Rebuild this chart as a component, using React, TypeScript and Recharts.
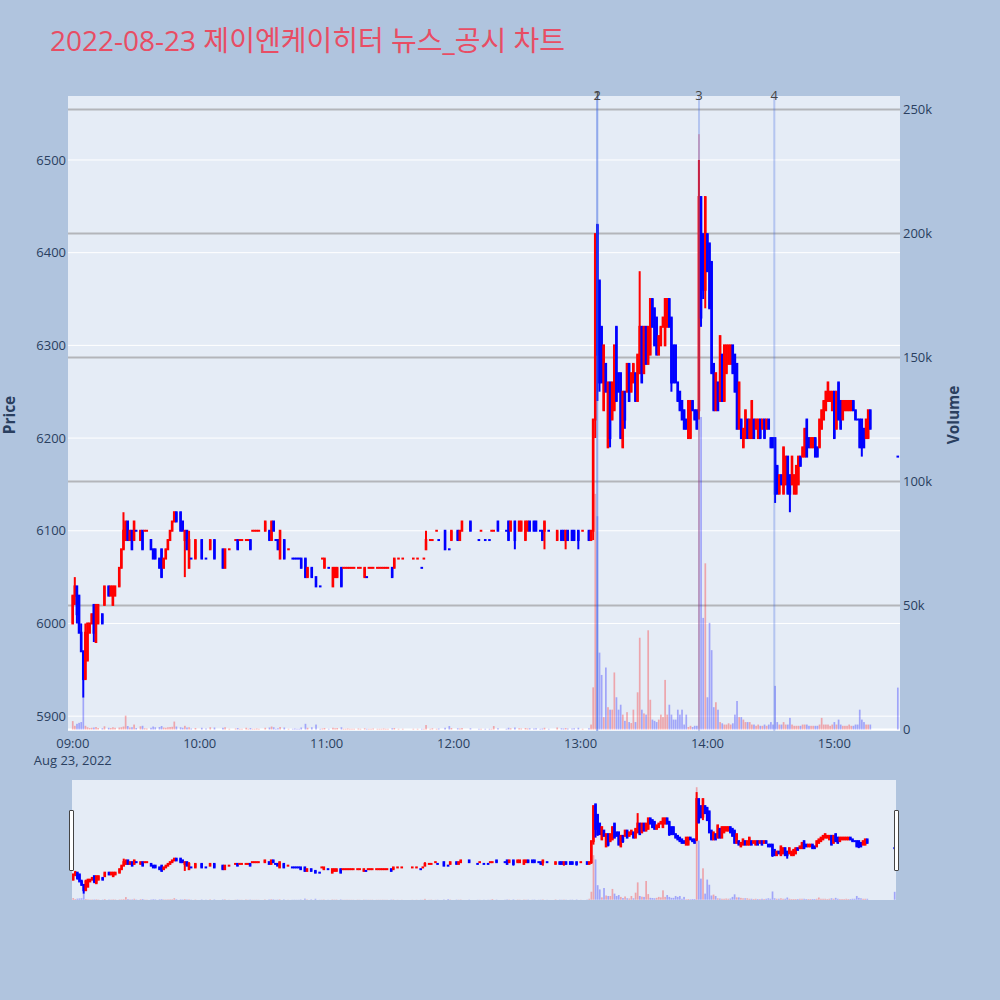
import React from "react";
import { ComposedChart, Bar, XAxis, YAxis, CartesianGrid, ReferenceLine } from "recharts";

// [time, open, high, low, close, volume]
type Row = [string, number, number, number, number, number];

const openingSession: Row[] = [
  ["09:00", 6000, 6030, 6000, 6030, 3400],
  ["09:01", 6030, 6050, 6020, 6040, 1500],
  ["09:02", 6040, 6040, 6000, 6010, 2300],
  ["09:03", 6030, 6030, 5990, 5990, 2700],
  ["09:04", 5990, 6000, 5970, 5970, 3000],
  ["09:05", 5970, 5970, 5920, 5940, 12800],
  ["09:06", 5940, 6000, 5940, 5990, 1500],
  ["09:07", 5960, 6000, 5960, 6000, 900],
  ["09:08", 5990, 6000, 5990, 6000, 600],
  ["09:09", 6000, 6010, 6000, 6010, 700],
  ["09:10", 6020, 6020, 5980, 5990, 800],
  ["09:11", 5980, 6020, 5980, 6020, 1000],
  ["09:12", 6000, 6020, 6000, 6020, 600],
  ["09:14", 6010, 6010, 6000, 6000, 500],
  ["09:15", 6020, 6040, 6020, 6040, 1300],
  ["09:17", 6040, 6040, 6030, 6030, 700],
  ["09:18", 6030, 6040, 6030, 6040, 600],
  ["09:19", 6020, 6040, 6020, 6040, 900],
  ["09:20", 6030, 6040, 6030, 6040, 700],
  ["09:22", 6040, 6060, 6040, 6060, 800],
  ["09:23", 6060, 6080, 6060, 6080, 900],
  ["09:24", 6080, 6120, 6080, 6100, 1200],
  ["09:25", 6090, 6110, 6090, 6110, 5600],
  ["09:26", 6110, 6110, 6090, 6090, 1400],
  ["09:27", 6090, 6100, 6090, 6100, 800],
  ["09:28", 6100, 6100, 6080, 6080, 900],
  ["09:29", 6090, 6110, 6090, 6110, 2000],
  ["09:30", 6100, 6100, 6100, 6100, 600],
  ["09:32", 6090, 6100, 6090, 6100, 1300],
  ["09:33", 6100, 6100, 6080, 6080, 1500],
  ["09:34", 6100, 6100, 6100, 6100, 500],
  ["09:35", 6100, 6100, 6100, 6100, 400],
  ["09:37", 6090, 6090, 6080, 6080, 700],
  ["09:38", 6080, 6080, 6070, 6070, 1200],
  ["09:39", 6080, 6080, 6070, 6070, 900],
  ["09:41", 6070, 6070, 6060, 6060, 1000],
  ["09:42", 6080, 6080, 6050, 6050, 1400],
  ["09:43", 6060, 6070, 6060, 6070, 800],
  ["09:44", 6070, 6080, 6070, 6080, 700],
  ["09:45", 6080, 6090, 6080, 6090, 900],
  ["09:46", 6090, 6100, 6090, 6100, 1000],
  ["09:47", 6100, 6110, 6100, 6110, 1100],
  ["09:48", 6110, 6120, 6110, 6120, 3200],
  ["09:49", 6120, 6120, 6110, 6110, 1200],
  ["09:51", 6120, 6120, 6100, 6100, 900],
  ["09:52", 6110, 6110, 6100, 6100, 700],
  ["09:53", 6090, 6100, 6050, 6100, 1500],
  ["09:54", 6100, 6100, 6080, 6080, 800],
  ["09:55", 6060, 6100, 6060, 6090, 900],
  ["09:56", 6070, 6070, 6070, 6070, 400],
  ["09:58", 6070, 6090, 6070, 6090, 600],
  ["10:01", 6090, 6090, 6070, 6070, 700],
  ["10:03", 6070, 6070, 6070, 6070, 400],
];

const morningSession: Row[] = [
  ["10:05", 6080, 6090, 6080, 6090, 900],
  ["10:07", 6090, 6090, 6070, 6070, 800],
  ["10:11", 6080, 6080, 6060, 6060, 700],
  ["10:12", 6060, 6080, 6060, 6080, 900],
  ["10:14", 6080, 6080, 6080, 6080, 300],
  ["10:17", 6090, 6090, 6090, 6090, 400],
  ["10:18", 6090, 6090, 6080, 6080, 600],
  ["10:19", 6090, 6090, 6090, 6090, 300],
  ["10:20", 6090, 6090, 6090, 6090, 300],
  ["10:22", 6090, 6090, 6090, 6090, 700],
  ["10:23", 6090, 6090, 6090, 6090, 300],
  ["10:24", 6090, 6090, 6080, 6080, 600],
  ["10:25", 6100, 6100, 6100, 6100, 300],
  ["10:26", 6100, 6100, 6100, 6100, 300],
  ["10:27", 6100, 6100, 6100, 6100, 400],
  ["10:28", 6100, 6100, 6100, 6100, 300],
  ["10:31", 6100, 6110, 6100, 6110, 700],
  ["10:33", 6100, 6100, 6090, 6090, 800],
  ["10:34", 6090, 6110, 6090, 6110, 1200],
  ["10:35", 6110, 6110, 6100, 6100, 900],
  ["10:36", 6090, 6090, 6090, 6090, 300],
  ["10:37", 6090, 6090, 6080, 6080, 500],
  ["10:38", 6070, 6100, 6070, 6100, 1000],
  ["10:40", 6090, 6090, 6070, 6070, 800],
  ["10:42", 6080, 6080, 6080, 6080, 300],
  ["10:44", 6070, 6070, 6070, 6070, 300],
  ["10:45", 6070, 6070, 6070, 6070, 400],
  ["10:46", 6070, 6070, 6070, 6070, 300],
  ["10:47", 6070, 6070, 6070, 6070, 300],
  ["10:48", 6070, 6070, 6060, 6060, 800],
  ["10:50", 6070, 6070, 6050, 6050, 2300],
  ["10:51", 6050, 6060, 6050, 6060, 700],
  ["10:53", 6060, 6060, 6050, 6050, 900],
  ["10:55", 6050, 6050, 6040, 6040, 2000],
  ["10:57", 6040, 6040, 6040, 6040, 300],
  ["10:58", 6070, 6070, 6070, 6070, 400],
  ["10:59", 6060, 6070, 6060, 6070, 600],
  ["11:01", 6060, 6060, 6060, 6060, 300],
  ["11:03", 6040, 6060, 6040, 6060, 700],
  ["11:04", 6050, 6060, 6050, 6060, 500],
  ["11:05", 6050, 6060, 6050, 6060, 600],
  ["11:07", 6060, 6060, 6040, 6040, 900],
  ["11:08", 6060, 6060, 6060, 6060, 300],
  ["11:09", 6060, 6060, 6060, 6060, 300],
  ["11:10", 6060, 6060, 6060, 6060, 400],
  ["11:11", 6060, 6060, 6060, 6060, 300],
  ["11:12", 6060, 6060, 6060, 6060, 300],
  ["11:13", 6060, 6060, 6060, 6060, 300],
  ["11:15", 6060, 6060, 6060, 6060, 400],
  ["11:16", 6060, 6060, 6060, 6060, 300],
  ["11:18", 6050, 6060, 6050, 6060, 500],
  ["11:19", 6050, 6050, 6050, 6050, 300],
  ["11:20", 6060, 6060, 6060, 6060, 300],
  ["11:21", 6060, 6060, 6060, 6060, 300],
  ["11:22", 6060, 6060, 6060, 6060, 400],
  ["11:24", 6060, 6060, 6060, 6060, 300],
  ["11:25", 6060, 6060, 6060, 6060, 300],
  ["11:26", 6060, 6060, 6060, 6060, 300],
  ["11:27", 6060, 6060, 6060, 6060, 400],
  ["11:28", 6060, 6060, 6060, 6060, 300],
  ["11:29", 6060, 6060, 6060, 6060, 300],
];

const middaySession: Row[] = [
  ["11:31", 6060, 6060, 6050, 6050, 500],
  ["11:32", 6060, 6070, 6060, 6070, 600],
  ["11:34", 6070, 6070, 6070, 6070, 300],
  ["11:36", 6070, 6070, 6070, 6070, 300],
  ["11:41", 6070, 6070, 6070, 6070, 300],
  ["11:43", 6070, 6070, 6070, 6070, 300],
  ["11:45", 6060, 6060, 6060, 6060, 300],
  ["11:46", 6070, 6070, 6070, 6070, 300],
  ["11:47", 6080, 6100, 6080, 6090, 1800],
  ["11:49", 6090, 6090, 6090, 6090, 300],
  ["11:50", 6090, 6090, 6090, 6090, 500],
  ["11:52", 6100, 6100, 6100, 6100, 300],
  ["11:53", 6090, 6090, 6090, 6090, 400],
  ["11:56", 6100, 6100, 6080, 6080, 700],
  ["11:58", 6080, 6080, 6080, 6080, 1400],
  ["11:59", 6090, 6100, 6090, 6100, 600],
  ["12:02", 6100, 6100, 6090, 6090, 500],
  ["12:03", 6090, 6100, 6090, 6100, 400],
  ["12:04", 6100, 6110, 6100, 6110, 600],
  ["12:08", 6110, 6110, 6100, 6100, 500],
  ["12:12", 6090, 6090, 6090, 6090, 300],
  ["12:13", 6100, 6100, 6100, 6100, 300],
  ["12:15", 6090, 6090, 6090, 6090, 300],
  ["12:17", 6090, 6090, 6090, 6090, 300],
  ["12:18", 6100, 6100, 6100, 6100, 300],
  ["12:19", 6100, 6100, 6100, 6100, 1400],
  ["12:21", 6110, 6110, 6100, 6100, 500],
  ["12:25", 6100, 6100, 6100, 6100, 300],
  ["12:26", 6110, 6110, 6090, 6090, 700],
  ["12:27", 6100, 6110, 6100, 6110, 500],
  ["12:29", 6110, 6110, 6080, 6090, 800],
  ["12:31", 6100, 6110, 6100, 6110, 500],
  ["12:32", 6100, 6110, 6100, 6110, 400],
  ["12:34", 6090, 6110, 6090, 6110, 600],
  ["12:35", 6100, 6110, 6100, 6110, 400],
  ["12:36", 6110, 6110, 6100, 6100, 500],
  ["12:38", 6110, 6110, 6100, 6100, 400],
  ["12:39", 6110, 6110, 6100, 6100, 500],
  ["12:41", 6100, 6100, 6100, 6100, 300],
  ["12:42", 6100, 6100, 6090, 6090, 400],
  ["12:43", 6100, 6110, 6080, 6110, 700],
  ["12:45", 6100, 6100, 6100, 6100, 300],
  ["12:49", 6090, 6100, 6090, 6100, 800],
  ["12:51", 6100, 6100, 6090, 6090, 500],
  ["12:52", 6100, 6100, 6090, 6090, 400],
  ["12:53", 6090, 6100, 6080, 6100, 600],
  ["12:54", 6100, 6100, 6090, 6090, 400],
  ["12:56", 6100, 6100, 6090, 6090, 400],
  ["12:57", 6100, 6100, 6090, 6090, 500],
  ["12:59", 6100, 6100, 6080, 6090, 700],
  ["13:01", 6100, 6100, 6100, 6100, 300],
  ["13:04", 6100, 6100, 6090, 6090, 500],
  ["13:05", 6090, 6100, 6090, 6100, 2000],
];

const newsSpike: Row[] = [
  ["13:06", 6100, 6220, 6090, 6220, 17000],
  ["13:07", 6220, 6420, 6200, 6420, 95000],
  ["13:08", 6430, 6430, 6240, 6290, 86000],
  ["13:09", 6370, 6370, 6250, 6260, 31000],
  ["13:10", 6320, 6320, 6260, 6260, 22000],
  ["13:11", 6230, 6300, 6230, 6300, 5000],
  ["13:12", 6280, 6280, 6250, 6250, 25000],
  ["13:13", 6190, 6260, 6190, 6260, 9000],
  ["13:14", 6260, 6260, 6190, 6200, 8000],
  ["13:15", 6220, 6260, 6220, 6260, 8000],
  ["13:16", 6230, 6300, 6230, 6300, 23000],
  ["13:17", 6320, 6320, 6240, 6240, 13000],
  ["13:18", 6270, 6270, 6250, 6250, 8000],
  ["13:19", 6270, 6270, 6200, 6200, 10000],
  ["13:20", 6190, 6250, 6190, 6250, 6000],
  ["13:21", 6250, 6250, 6210, 6220, 3500],
  ["13:22", 6250, 6280, 6250, 6280, 7000],
  ["13:23", 6280, 6280, 6240, 6240, 3000],
  ["13:24", 6250, 6270, 6250, 6270, 2600],
  ["13:25", 6260, 6280, 6260, 6280, 8000],
  ["13:26", 6270, 6270, 6240, 6240, 3000],
  ["13:27", 6240, 6290, 6240, 6290, 15000],
  ["13:28", 6270, 6380, 6270, 6320, 37000],
  ["13:29", 6320, 6320, 6260, 6260, 8000],
  ["13:30", 6270, 6320, 6270, 6320, 6500],
  ["13:31", 6320, 6320, 6280, 6280, 6000],
  ["13:32", 6280, 6320, 6280, 6320, 40000],
  ["13:33", 6290, 6350, 6290, 6350, 12000],
  ["13:34", 6350, 6350, 6320, 6320, 4000],
  ["13:35", 6340, 6340, 6300, 6300, 3500],
  ["13:36", 6330, 6330, 6290, 6290, 3000],
  ["13:37", 6290, 6310, 6290, 6310, 4000],
  ["13:38", 6300, 6320, 6300, 6320, 6000],
  ["13:39", 6320, 6330, 6320, 6330, 5000],
  ["13:40", 6300, 6350, 6300, 6350, 20000],
  ["13:41", 6320, 6350, 6320, 6350, 6000],
  ["13:42", 6350, 6350, 6320, 6320, 10000],
  ["13:43", 6330, 6330, 6250, 6260, 6000],
  ["13:44", 6300, 6300, 6260, 6260, 4000],
  ["13:45", 6300, 6300, 6260, 6260, 4000],
  ["13:46", 6260, 6260, 6240, 6240, 8000],
  ["13:47", 6250, 6250, 6230, 6230, 6000],
  ["13:48", 6240, 6240, 6220, 6220, 8000],
  ["13:49", 6230, 6230, 6210, 6210, 2000],
  ["13:50", 6220, 6220, 6210, 6210, 6000],
  ["13:51", 6200, 6240, 6200, 6240, 1000],
  ["13:52", 6200, 6240, 6200, 6240, 1500],
  ["13:53", 6240, 6240, 6230, 6230, 1000],
  ["13:54", 6230, 6230, 6220, 6220, 1500],
  ["13:55", 6230, 6230, 6210, 6210, 1500],
  ["13:56", 6230, 6500, 6220, 6460, 240000],
];

const afternoonSession: Row[] = [
  ["13:57", 6460, 6460, 6320, 6330, 126000],
  ["13:58", 6420, 6420, 6350, 6360, 45000],
  ["13:59", 6360, 6460, 6340, 6460, 67000],
  ["14:00", 6420, 6420, 6380, 6380, 13000],
  ["14:01", 6410, 6410, 6340, 6340, 43000],
  ["14:02", 6390, 6390, 6270, 6270, 32000],
  ["14:03", 6280, 6280, 6230, 6230, 9000],
  ["14:04", 6230, 6270, 6230, 6270, 11000],
  ["14:05", 6260, 6260, 6230, 6230, 8000],
  ["14:06", 6240, 6310, 6240, 6310, 3000],
  ["14:07", 6290, 6290, 6240, 6240, 2500],
  ["14:08", 6240, 6300, 6240, 6300, 2000],
  ["14:09", 6270, 6300, 6270, 6300, 2000],
  ["14:10", 6280, 6300, 6280, 6300, 2500],
  ["14:11", 6280, 6300, 6280, 6300, 2000],
  ["14:12", 6300, 6300, 6270, 6270, 2500],
  ["14:13", 6290, 6290, 6250, 6250, 6000],
  ["14:14", 6280, 6280, 6210, 6210, 11500],
  ["14:15", 6210, 6260, 6210, 6260, 5000],
  ["14:16", 6220, 6220, 6200, 6200, 5000],
  ["14:17", 6190, 6210, 6190, 6210, 4000],
  ["14:18", 6200, 6230, 6200, 6230, 3000],
  ["14:19", 6220, 6220, 6200, 6200, 3000],
  ["14:20", 6200, 6220, 6200, 6220, 3000],
  ["14:21", 6200, 6240, 6200, 6240, 2000],
  ["14:22", 6220, 6220, 6200, 6200, 2000],
  ["14:23", 6210, 6220, 6210, 6220, 1500],
  ["14:24", 6200, 6220, 6200, 6220, 2000],
  ["14:25", 6220, 6220, 6200, 6200, 1500],
  ["14:26", 6210, 6220, 6210, 6220, 1500],
  ["14:27", 6220, 6220, 6200, 6200, 2000],
  ["14:28", 6210, 6220, 6210, 6220, 1500],
  ["14:29", 6220, 6220, 6210, 6210, 2000],
  ["14:30", 6200, 6200, 6190, 6190, 3000],
  ["14:31", 6200, 6200, 6190, 6190, 2000],
  ["14:32", 6200, 6200, 6130, 6140, 17600],
  ["14:33", 6170, 6170, 6140, 6140, 3000],
  ["14:34", 6140, 6160, 6140, 6160, 2000],
  ["14:35", 6160, 6160, 6150, 6150, 2000],
  ["14:36", 6140, 6190, 6140, 6190, 3000],
  ["14:37", 6150, 6180, 6150, 6180, 2000],
  ["14:38", 6180, 6180, 6140, 6140, 2000],
  ["14:39", 6160, 6160, 6120, 6140, 4700],
  ["14:40", 6150, 6180, 6150, 6180, 2000],
  ["14:41", 6140, 6160, 6140, 6160, 1500],
  ["14:42", 6140, 6170, 6140, 6170, 1500],
  ["14:43", 6150, 6180, 6150, 6180, 1500],
  ["14:44", 6180, 6180, 6170, 6170, 1500],
  ["14:45", 6180, 6190, 6180, 6190, 2000],
  ["14:46", 6180, 6210, 6180, 6210, 2000],
  ["14:47", 6220, 6220, 6180, 6180, 2000],
  ["14:48", 6200, 6200, 6190, 6190, 1500],
  ["14:49", 6190, 6200, 6190, 6200, 1500],
  ["14:50", 6190, 6200, 6190, 6200, 1500],
  ["14:51", 6200, 6200, 6180, 6180, 1500],
  ["14:52", 6190, 6190, 6180, 6180, 1500],
  ["14:53", 6190, 6220, 6190, 6220, 2000],
  ["14:54", 6210, 6230, 6210, 6230, 4700],
  ["14:55", 6220, 6240, 6220, 6240, 2000],
  ["14:56", 6230, 6250, 6230, 6250, 2000],
  ["14:57", 6240, 6260, 6240, 6260, 2000],
  ["14:58", 6240, 6250, 6240, 6250, 1500],
  ["14:59", 6230, 6250, 6230, 6250, 2000],
  ["15:00", 6250, 6250, 6200, 6200, 3000],
  ["15:01", 6210, 6250, 6210, 6250, 2000],
  ["15:02", 6260, 6260, 6220, 6220, 4000],
  ["15:03", 6240, 6240, 6210, 6210, 2000],
  ["15:04", 6220, 6240, 6220, 6240, 1500],
  ["15:05", 6230, 6240, 6230, 6240, 1500],
  ["15:06", 6230, 6240, 6230, 6240, 1500],
  ["15:07", 6230, 6240, 6230, 6240, 2000],
  ["15:08", 6230, 6240, 6230, 6240, 1500],
  ["15:09", 6240, 6240, 6230, 6230, 1500],
  ["15:10", 6230, 6230, 6220, 6220, 2000],
  ["15:11", 6220, 6220, 6220, 6220, 2000],
  ["15:12", 6220, 6220, 6190, 6190, 8000],
  ["15:13", 6220, 6220, 6180, 6190, 4000],
  ["15:14", 6210, 6210, 6190, 6190, 3000],
  ["15:15", 6200, 6220, 6200, 6220, 2000],
  ["15:16", 6200, 6230, 6200, 6230, 2000],
  ["15:17", 6230, 6230, 6210, 6210, 2000],
  ["15:30", 6180, 6180, 6180, 6180, 16900],
];

const newsTimes = ["13:07:50", "13:07:55", "13:56:00", "14:31:35"];
const newsLabels = ["1", "2", "3", "4"];
const priceTicks = [5900, 6000, 6100, 6200, 6300, 6400, 6500];
const volumeTicks = [0, 50000, 100000, 150000, 200000, 250000];
const hourLabels = ["09:00", "10:00", "11:00", "12:00", "13:00", "14:00", "15:00"];
const dateLabel = "Aug 23, 2022";
const title = "2022-08-23 제이엔케이히터 뉴스_공시 차트";

const UP = "#ff0000";
const DOWN = "#0000ff";
const AXIS_TEXT = "#2a3f5f";
const FONT = '"Open Sans", "Noto Sans CJK KR", Verdana, Arial, sans-serif';
const TICK_SIZE = 13;

const toMinutes = (s: string) => {
  const [h, m, sec = "0"] = s.split(":");
  return (Number(h) - 9) * 60 + Number(m) + Number(sec) / 60;
};

// plotly style: a flat candle takes its colour from the previous close
function buildCandles(rows: Row[]) {
  let prevClose: number | null = null;
  let up = true;
  return rows.map(([time, open, high, low, close, volume]) => {
    if (close !== open) up = close > open;
    else if (prevClose !== null && close !== prevClose) up = close > prevClose;
    prevClose = close;
    return { t: toMinutes(time), open, high, low, close, volume, up };
  });
}

const candles = buildCandles([
  ...openingSession,
  ...morningSession,
  ...middaySession,
  ...newsSpike,
  ...afternoonSession,
]);

const hourTicks = hourLabels.map(toMinutes);

function Candle(props: any) {
  const { x, y, width, height, payload } = props;
  if (x == null || payload == null) return null;
  const { open, close, high, low, up } = payload;
  const cx = x + width / 2;
  const top = Math.min(y, y + height);
  const h = Math.abs(height);
  const span = high - low;
  const py = (v: number) => (span > 0 ? top + ((high - v) / span) * h : top);
  const color = up ? UP : DOWN;
  const bTop = py(Math.max(open, close));
  const bBot = py(Math.min(open, close));
  return (
    <g>
      {span > 0 && <rect x={cx - 1} y={top} width={2} height={h} fill={color} />}
      <rect x={cx - 1.3} y={bTop - 1} width={2.6} height={bBot - bTop + 2} fill={color} />
    </g>
  );
}

function VolumeBar(props: any) {
  const { x, y, width, height, payload } = props;
  if (x == null || payload == null) return null;
  const cx = x + width / 2;
  return (
    <rect
      x={cx - 0.85}
      y={Math.min(y, y + height)}
      width={1.7}
      height={Math.abs(height)}
      fill={payload.up ? UP : DOWN}
      fillOpacity={0.3}
    />
  );
}

function TimeTick(props: any) {
  const { x, y, payload } = props;
  const i = hourTicks.indexOf(payload.value);
  return (
    <g>
      <text x={x} y={y} dy="0.71em" textAnchor="middle" fill={AXIS_TEXT} fontSize={TICK_SIZE} fontFamily={FONT}>
        {hourLabels[i]}
      </text>
      {i === 0 && (
        <text
          x={x}
          y={y + 26}
          textAnchor="middle"
          fill={AXIS_TEXT}
          fontSize={TICK_SIZE}
          fontFamily={FONT}
        >
          {dateLabel}
        </text>
      )}
    </g>
  );
}

const PRICE_DOMAIN: [number, number] = [5884, 6569];
const VOL_DOMAIN: [number, number] = [-600, 255400];

export default function App() {
  return (
    <div
      style={{
        position: "absolute",
        left: 0,
        top: 0,
        width: 1000,
        height: 1000,
        background: "#b0c4de",
        fontFamily: FONT,
        overflow: "hidden",
      }}
    >
      <svg width={1000} height={1000} style={{ position: "absolute", left: 0, top: 0 }}>
        <text x={50} y={51} fontSize={28} fill="#e84d64" fontFamily={FONT}>
          {title}
        </text>
        <text
          transform="translate(15,415) rotate(-90)"
          textAnchor="middle"
          fontSize={15.4}
          fontWeight="bold"
          fill={AXIS_TEXT}
          fontFamily={FONT}
        >
          Price
        </text>
        <text
          transform="translate(959,415) rotate(-90)"
          textAnchor="middle"
          fontSize={15.4}
          fontWeight="bold"
          fill={AXIS_TEXT}
          fontFamily={FONT}
        >
          Volume
        </text>
      </svg>

      <div style={{ position: "absolute", left: 0, top: 0 }}>
        <ComposedChart
          width={1000}
          height={770}
          data={candles}
          margin={{ top: 96, right: 0, bottom: 9, left: 0 }}
        >
          <CartesianGrid
            xAxisId="x"
            yAxisId="price"
            vertical={false}
            horizontalValues={priceTicks}
            stroke="#ffffff"
            fill="#e5ecf6"
            fillOpacity={1}
          />
          <CartesianGrid
            xAxisId="x"
            yAxisId="vol"
            vertical={false}
            horizontalValues={volumeTicks.slice(1)}
            stroke="#b3b5ba"
            strokeWidth={2}
          />
          <CartesianGrid
            xAxisId="x"
            yAxisId="vol"
            vertical={false}
            horizontalValues={[0]}
            stroke="#ffffff"
            strokeWidth={2}
          />
          <XAxis
            xAxisId="x"
            dataKey="t"
            type="number"
            domain={[-2.27, 391]}
            allowDataOverflow
            ticks={hourTicks}
            tick={<TimeTick />}
            tickLine={false}
            axisLine={false}
            tickSize={0}
            tickMargin={8}
            height={30}
          />
          <XAxis xAxisId="xv" dataKey="t" type="number" domain={[-2.27, 391]} allowDataOverflow hide />
          <YAxis
            yAxisId="price"
            orientation="left"
            width={68}
            domain={PRICE_DOMAIN}
            allowDataOverflow
            ticks={priceTicks}
            tickLine={false}
            axisLine={false}
            tickSize={0}
            tickMargin={2}
            tick={{ fill: AXIS_TEXT, fontSize: TICK_SIZE, fontFamily: FONT }}
          />
          <YAxis
            yAxisId="vol"
            orientation="right"
            width={100}
            domain={VOL_DOMAIN}
            allowDataOverflow
            ticks={volumeTicks}
            tickFormatter={(v: number) => (v === 0 ? "0" : `${v / 1000}k`)}
            tickLine={false}
            axisLine={false}
            tickSize={0}
            tickMargin={3}
            tick={{ fill: AXIS_TEXT, fontSize: TICK_SIZE, fontFamily: FONT }}
          />
          <Bar
            xAxisId="x"
            yAxisId="price"
            dataKey={(d: any) => [d.low, d.high]}
            shape={(p: any) => <Candle {...p} />}
            barSize={3}
            isAnimationActive={false}
          />
          <Bar
            xAxisId="xv"
            yAxisId="vol"
            dataKey="volume"
            shape={(p: any) => <VolumeBar {...p} />}
            barSize={2}
            isAnimationActive={false}
          />
          {newsTimes.map((time, i) => (
            <ReferenceLine
              key={i}
              xAxisId="x"
              yAxisId="price"
              x={toMinutes(time)}
              stroke="royalblue"
              strokeOpacity={0.3}
              strokeWidth={2}
              label={(p: any) => (
                <text
                  x={p.viewBox.x}
                  y={p.viewBox.y + 4}
                  textAnchor="middle"
                  fill="#444"
                  fontSize={TICK_SIZE}
                  fontFamily={FONT}
                >
                  {newsLabels[i]}
                </text>
              )}
            />
          ))}
        </ComposedChart>
      </div>

      {/* range slider */}
      <div
        style={{
          position: "absolute",
          left: 72,
          top: 780,
          width: 824,
          height: 120,
          background: "#e5ecf6",
        }}
      />
      <div style={{ position: "absolute", left: 0, top: 780 }}>
        <ComposedChart
          width={1000}
          height={120}
          data={candles}
          margin={{ top: 0, right: 104, bottom: 0, left: 72 }}
        >
          <XAxis xAxisId="x" dataKey="t" type="number" domain={[-0.6, 390.6]} allowDataOverflow hide />
          <XAxis xAxisId="xv" dataKey="t" type="number" domain={[-0.6, 390.6]} allowDataOverflow hide />
          <YAxis yAxisId="price" domain={PRICE_DOMAIN} allowDataOverflow hide />
          <YAxis yAxisId="vol" domain={VOL_DOMAIN} allowDataOverflow hide />
          <Bar
            xAxisId="x"
            yAxisId="price"
            dataKey={(d: any) => [d.low, d.high]}
            shape={(p: any) => <Candle {...p} />}
            barSize={3}
            isAnimationActive={false}
          />
          <Bar
            xAxisId="xv"
            yAxisId="vol"
            dataKey="volume"
            shape={(p: any) => <VolumeBar {...p} />}
            barSize={2}
            isAnimationActive={false}
          />
        </ComposedChart>
      </div>
      <div
        style={{
          position: "absolute",
          left: 69,
          top: 810,
          width: 3,
          height: 59,
          background: "#fff",
          border: "1px solid #444",
          borderRadius: 1,
        }}
      />
      <div
        style={{
          position: "absolute",
          left: 894,
          top: 810,
          width: 3,
          height: 59,
          background: "#fff",
          border: "1px solid #444",
          borderRadius: 1,
        }}
      />
    </div>
  );
}
